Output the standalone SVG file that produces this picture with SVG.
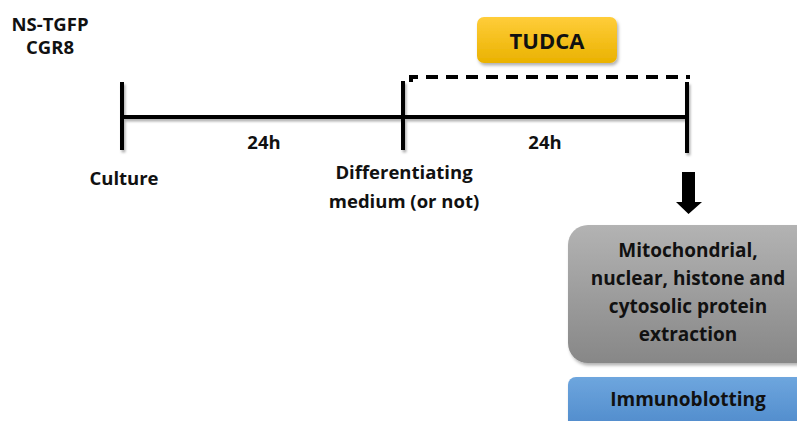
<svg xmlns="http://www.w3.org/2000/svg" width="797" height="421" viewBox="0 0 797 421">
<style>
text{font-family:"Open Sans","Liberation Sans",Arial,sans-serif;font-weight:bold;fill:#111;text-anchor:middle}
.lbl{font-size:18.5px}
.box{font-size:19px}
.tl{stroke:#000;stroke-width:4;fill:none}
</style>
<defs>
<linearGradient id="gold" x1="0" y1="0" x2="0" y2="1">
<stop offset="0" stop-color="#ffcd3a"/><stop offset="1" stop-color="#eab200"/>
</linearGradient>
<linearGradient id="gray" x1="0" y1="0" x2="0" y2="1">
<stop offset="0" stop-color="#b3b3b3"/><stop offset="1" stop-color="#878787"/>
</linearGradient>
<linearGradient id="blue" x1="0" y1="0" x2="0" y2="1">
<stop offset="0" stop-color="#6ea6de"/><stop offset="1" stop-color="#4a86c8"/>
</linearGradient>
<filter id="sh" x="-10%" y="-10%" width="130%" height="140%">
<feDropShadow dx="1.5" dy="2.5" stdDeviation="1.5" flood-color="#000" flood-opacity="0.3"/>
</filter>
<filter id="lsh" filterUnits="userSpaceOnUse" x="0" y="0" width="797" height="421">
<feDropShadow dx="1.5" dy="2.5" stdDeviation="1.2" flood-color="#000" flood-opacity="0.3"/>
</filter>
</defs>
<g id="title">
<text class="lbl" x="50" y="31">NS-TGFP</text>
<text class="lbl" x="50" y="54">CGR8</text>
</g>
<g id="connectors">
<g filter="url(#lsh)">
<line class="tl" x1="122" y1="117" x2="686" y2="117"/>
<line class="tl" x1="122" y1="82" x2="122" y2="150"/>
<line class="tl" x1="403" y1="81" x2="403" y2="150"/>
<line class="tl" x1="687" y1="82" x2="687" y2="153"/>
</g>
<path d="M411 82 V77 H690" stroke="#000" stroke-width="4" fill="none" stroke-dasharray="12 8"/>
<polygon points="682,172 695,172 695,202 702,202 688.5,214 676,202 682,202" fill="#000"/>
</g>
<g id="tudca">
<rect x="477" y="17" width="140" height="46" rx="7" fill="url(#gold)" filter="url(#sh)"/>
<text x="547" y="49" style="font-size:22px">TUDCA</text>
</g>
<g id="labels">
<text class="lbl" x="264" y="149">24h</text>
<text class="lbl" x="545" y="149">24h</text>
<text class="lbl" x="124" y="185">Culture</text>
<text class="lbl" x="404" y="179">Differentiating</text>
<text class="lbl" x="404" y="208">medium (or not)</text>
</g>
<g id="extraction">
<rect x="568" y="225" width="250" height="138" rx="20" fill="url(#gray)" filter="url(#sh)"/>
<text class="box" x="688" y="257">Mitochondrial,</text>
<text class="box" x="688" y="285">nuclear, histone and</text>
<text class="box" x="688" y="313">cytosolic protein</text>
<text class="box" x="688" y="341">extraction</text>
</g>
<g id="immunoblotting">
<rect x="568" y="377" width="250" height="60" rx="8" fill="url(#blue)" filter="url(#sh)"/>
<text class="box" x="688" y="406">Immunoblotting</text>
</g>
</svg>
